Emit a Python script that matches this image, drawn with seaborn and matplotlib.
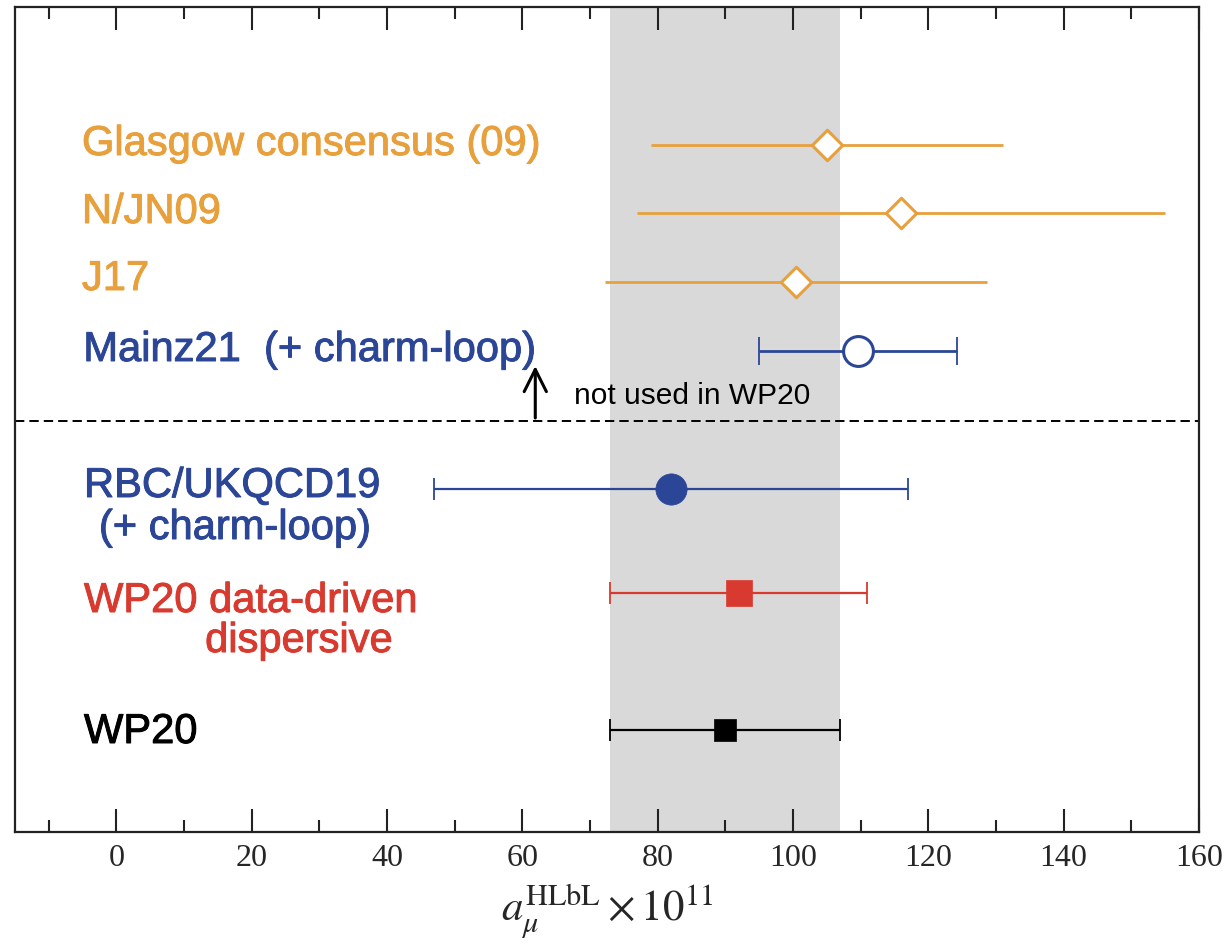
import matplotlib
matplotlib.use("Agg")
import matplotlib.pyplot as plt
import matplotlib.patheffects as pe
from matplotlib.ticker import MultipleLocator
import pandas as pd
import seaborn as sns

# a_mu^HLbL x 10^11 determinations: central value and symmetric uncertainty
names = [
    "Glasgow consensus (09)",
    "N/JN09",
    "J17",
    "Mainz21 (+ charm-loop)",
    "RBC/UKQCD19 (+ charm-loop)",
    "WP20 data-driven dispersive",
    "WP20",
]
central = [105.0, 116.0, 100.4, 109.6, 82.0, 92.0, 90.0]
uncert = [26.0, 39.0, 28.2, 14.7, 35.0, 19.0, 17.0]
wp20_band = [73.0, 107.0]
x_ticks = [0, 20, 40, 60, 80, 100, 120, 140, 160]

df = pd.DataFrame({"name": names, "value": central, "err": uncert})

# ---- layout / style (vertical rows in pixel-like units, top = small) ----
row_y = [145, 213, 282, 351, 489, 593, 730]
sep_y = 421

ORANGE = "#E8A03C"
BLUE = "#2C4697"
RED = "#D83A2F"
BLACK = "#000000"

styles = [
    dict(c=ORANGE, m="D", ms=15.5, fc="white", ew=2.2, lw=2.0, cap=0),
    dict(c=ORANGE, m="D", ms=15.5, fc="white", ew=2.2, lw=2.0, cap=0),
    dict(c=ORANGE, m="D", ms=15.5, fc="white", ew=2.2, lw=2.0, cap=0),
    dict(c=BLUE, m="o", ms=21.5, fc="white", ew=2.2, lw=2.0, cap=10),
    dict(c=BLUE, m="o", ms=22.5, fc=BLUE, ew=0.5, lw=1.6, cap=8),
    dict(c=RED, m="s", ms=19.0, fc=RED, ew=0.5, lw=1.6, cap=8),
    dict(c=BLACK, m="s", ms=16.0, fc=BLACK, ew=0.5, lw=1.6, cap=8),
]

sns.set_theme(style="white")
plt.rcParams["font.family"] = ["Liberation Sans", "DejaVu Sans"]
plt.rcParams["mathtext.fontset"] = "stix"

W, H = 1228, 948
fig = plt.figure(figsize=(W / 100, H / 100), dpi=100)
ax = fig.add_axes([15 / W, 1 - 832 / H, (1199 - 15) / W, (832 - 7) / H])

ax.set_xlim(-15, 160)
ax.set_ylim(832, 7)

# WP20 band
ax.axvspan(wp20_band[0], wp20_band[1], color="#D9D9D9", lw=0, zorder=0)

for i, row in df.iterrows():
    st = styles[i]
    ax.errorbar([row["value"]], [row_y[i]], xerr=[row["err"]], fmt="none",
                ecolor=st["c"], elinewidth=st["lw"], capsize=st["cap"],
                capthick=1.3, zorder=3)
    sns.scatterplot(x=[row["value"]], y=[row_y[i]], marker=st["m"],
                    s=st["ms"] ** 2, color=st["fc"], edgecolor=st["c"],
                    linewidth=st["ew"], zorder=4, ax=ax, legend=False)

# separator between results used / not used in WP20
ax.axhline(sep_y, color="black", lw=1.4, ls=(0, (4.8, 2.6)), zorder=2)
ax.annotate("", xy=(61.9, 366), xytext=(61.9, sep_y - 3),
            arrowprops=dict(arrowstyle="->", lw=2.2, color="black",
                            mutation_scale=40, shrinkA=0, shrinkB=0),
            zorder=5)
ax.text(67.6, 404, "not used in WP20", fontsize=21.5, color="black",
        ha="left", va="baseline")

# row labels
LFS = 30
label_spec = [
    ("Glasgow consensus (09)", -5.1, 155, ORANGE),
    ("N/JN09", -5.1, 223, ORANGE),
    ("J17", -5.1, 290, ORANGE),
    ("Mainz21  (+ charm-loop)", -4.9, 361, BLUE),
    ("RBC/UKQCD19", -4.8, 497, BLUE),
    ("(+ charm-loop)", -2.6, 539, BLUE),
    ("WP20 data-driven", -4.8, 612, RED),
    ("dispersive", 13.1, 652, RED),
    ("WP20", -4.8, 743, BLACK),
]
for txt, lx, ly, col in label_spec:
    ax.text(lx, ly, txt, fontsize=LFS, color=col, ha="left", va="baseline",
            path_effects=[pe.withStroke(linewidth=0.7, foreground=col)])

# axes styling
ax.set_yticks([])
ax.xaxis.set_major_locator(MultipleLocator(20))
ax.xaxis.set_minor_locator(MultipleLocator(10))
ax.set_xticks(x_ticks)
ax.set_xticklabels([str(t) for t in x_ticks], fontfamily="Liberation Serif",
                   fontsize=23)
ax.tick_params(axis="x", which="both", direction="in", top=True, bottom=True,
               color="#222222", pad=9)
ax.tick_params(axis="x", which="major", length=16.5, width=1.5)
ax.tick_params(axis="x", which="minor", length=8.5, width=1.5)
for sp in ax.spines.values():
    sp.set_linewidth(1.6)
    sp.set_color("#222222")
    sp.set_visible(True)

ax.set_xlabel(r"$a_{\mu}^{\mathrm{HLbL}}\times 10^{11}$", fontsize=31,
              labelpad=6)
ax.set_ylabel("")

fig.savefig("out.png", dpi=100)
